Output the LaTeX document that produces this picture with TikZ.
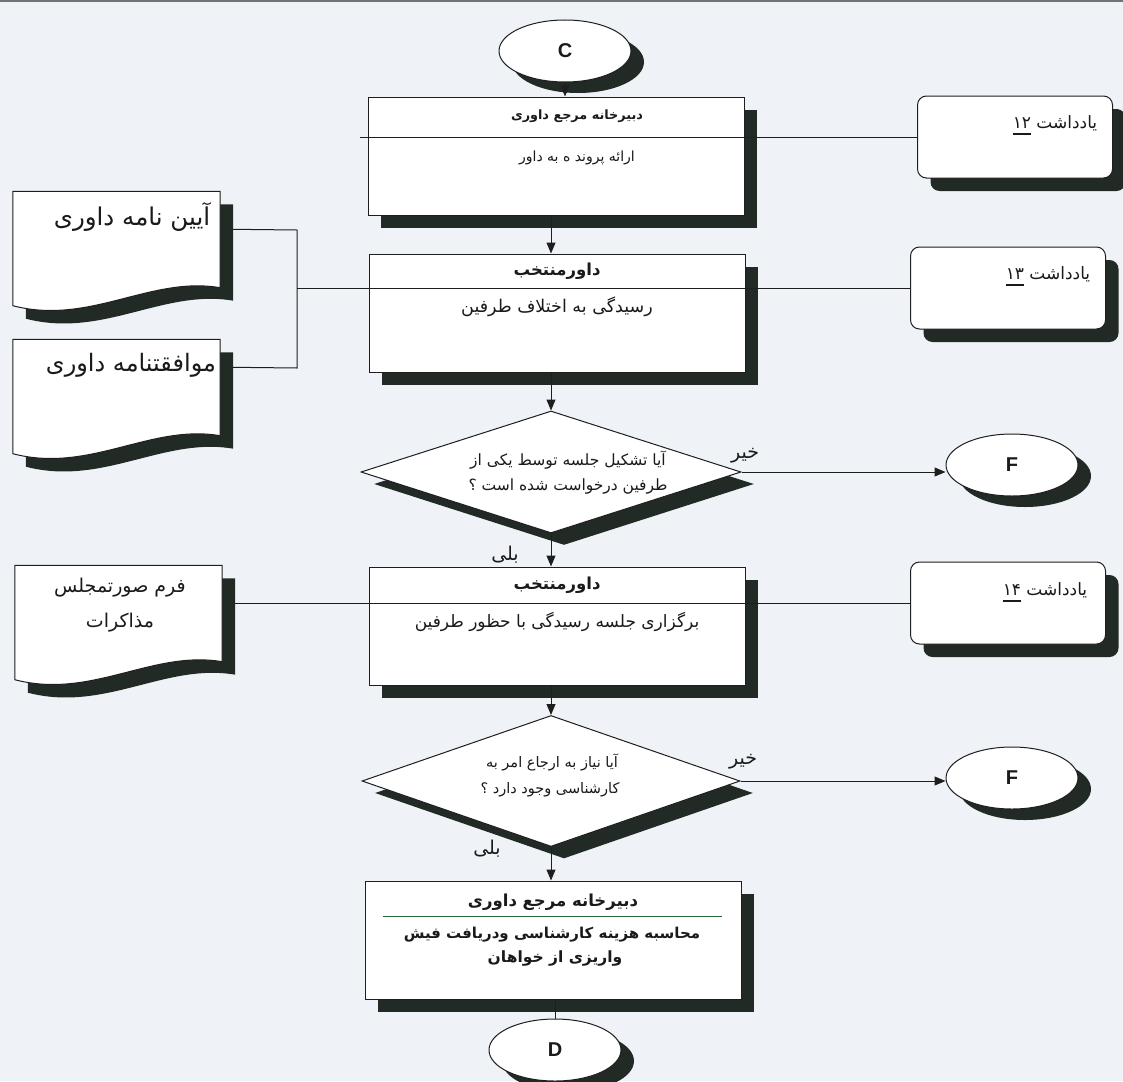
\documentclass[tikz,border=0pt]{standalone}
\usepackage{fontspec}
\setmainfont{DejaVu Sans}
\newfontfamily\fa[Script=Arabic]{DejaVu Sans}
\newfontfamily\lat{Liberation Sans}
\TeXXeTstate=1
\usetikzlibrary{shapes.geometric,arrows.meta,shadows,calc}
\definecolor{bgc}{HTML}{EFF3F7}
\definecolor{shc}{HTML}{222A25}
\definecolor{lnc}{HTML}{1E1E1E}
\definecolor{txc}{HTML}{1A1A1A}
\definecolor{grn}{HTML}{2E6B3C}
\newcommand\fatext[1]{{\fa\beginR #1\endR}}
\newcommand\ulnum[1]{\vtop{\hbox{#1}\kern5pt\hrule height 1.2pt}}
\newcommand\docshape[1]{%
  \fill[shc] ($(#1.north west)+(13,13)$) -- ($(#1.north east)+(13,13)$) -- ($(#1.south east)+(13,-5)$)
     .. controls ($(#1.south east)+(-57,-17)$) and ($(#1.south west)+(90,33)$) .. ($(#1.south west)+(13,13)$) -- cycle;
  \filldraw[fill=white, draw=lnc, line width=1pt] (#1.north west) -- (#1.north east) -- ($(#1.south east)+(0,-18)$)
     .. controls ($(#1.south east)+(-70,-30)$) and ($(#1.south west)+(77,20)$) .. (#1.south west) -- cycle;
}
\begin{document}
\begin{tikzpicture}[x=1pt,y=-1pt,
  ln/.style={draw=lnc, line width=1pt},
  arr/.style={draw=lnc, line width=1pt, -{Triangle[length=11pt,width=9pt]}},
  shad/.style={general shadow={fill=shc, shadow xshift=13pt, shadow yshift=-13pt}},
  box/.style={rectangle, draw=lnc, line width=1pt, fill=white, minimum width=376pt, minimum height=118pt, inner sep=0pt, shad},
  diam/.style={diamond, draw=lnc, line width=1pt, fill=white, aspect=3.1, inner sep=0pt, general shadow={fill=shc, shadow xshift=13pt, shadow yshift=-12pt}},
  conn/.style={ellipse, draw=lnc, line width=1pt, fill=white, minimum width=132pt, minimum height=62pt, inner sep=0pt, text=txc,
     font=\lat\bfseries\fontsize{20}{20}\selectfont, general shadow={fill=shc, shadow xshift=13pt, shadow yshift=-11pt}},
  note/.style={rectangle, rounded corners=9pt, draw=lnc, line width=1pt, fill=white, minimum width=195pt, minimum height=82pt, inner sep=0pt, shad},
  docn/.style={rectangle, minimum width=207pt, minimum height=114pt, inner sep=0pt},
  fs/.style={font=\fontsize{#1}{#1}\selectfont},
  fsb/.style={font=\bfseries\fontsize{#1}{#1}\selectfont},
  tx/.style={inner sep=0pt, text=txc}
]
\useasboundingbox[fill=bgc] (0,0) rectangle (1123,1081);
\fill[black!55] (0,0) rectangle (1123,2.5);

% documents
\node[docn] (doc1) at (116.5,248.5) {};
\docshape{doc1}
\node[docn] (doc2) at (116.5,396.5) {};
\docshape{doc2}
\node[docn] (doc3) at (118.5,622.5) {};
\docshape{doc3}

% main flow nodes
\node[conn] (C) at (565,51) {C};
\node[box] (b1) at (556,156) {};
\node[box] (b2) at (557,313) {};
\node[diam, minimum width=380pt, minimum height=122pt] (d1) at (551,472) {};
\node[box] (b3) at (557,626) {};
\node[diam, minimum width=378pt, minimum height=131pt] (d2) at (551,781) {};
\node[box] (b4) at (553,940) {};
\node[conn] (D) at (555,1050) {D};
\node[conn] (F1) at (1012,465) {F};
\node[conn] (F2) at (1012,778) {F};

% notes
\node[note] (n12) at (1015,137) {};
\node[note] (n13) at (1008,288) {};
\node[note] (n14) at (1008,603) {};

% coordinates for free ends
\coordinate (j1) at (297,230);
\coordinate (j2) at (297,368);
\coordinate (jm) at (297,288);
\coordinate (d3r) at ($(doc3.east)+(13,0)$);
\coordinate (b1l) at ($(b1.north west)+(-8,0)$);

% connectors
\draw[arr] (C.south) -- (C.south |- b1.north);
\draw[arr] (b1.south -| d1.north) -- (b2.north -| d1.north);
\draw[arr] (b2.south -| d1.north) -- (d1.north);
\draw[arr] (d1.south) -- (b3.north -| d1.south);
\draw[arr] (b3.south -| d2.north) -- (d2.north);
\draw[arr] (d2.south) -- (b4.north -| d2.south);
\draw[ln] (b4.south -| D.north) -- (D.north);
\draw[arr] (d1.east) -- (d1.east -| F1.west);
\draw[arr] (d2.east) -- (d2.east -| F2.west);

\draw[ln] (b1l |- n12.west) -- (n12.west);
\draw[ln] ($(doc1.north east)+(13,38)$) -- (j1) -- (j2) -- ($(doc2.north east)+(13,28)$);
\draw[ln] (jm) -- (n13.west);
\draw[draw=lnc, line width=1.8pt] ($(b2.north west)+(16,35)$) -- ($(b2.north east)+(-18,35)$);
\draw[ln] (d3r |- n14.west) -- (n14.west);
\draw[draw=grn, line width=1.6pt] ($(b4.north west)+(18,36)$) -- ($(b4.north east)+(-20,36)$);

% box texts
\node[tx, fsb=12.8] (b1h) at (577,116) {\fatext{دبیرخانه مرجع داوری}};
\node[tx, fs=14] (b1t) at (577,158) {\fatext{ارائه پروند ه به داور}};
\node[tx, fsb=16.5] (b2h) at (557,271) {\fatext{داورمنتخب}};
\node[tx, fs=17.5] (b2t) at (557,307) {\fatext{رسیدگی به اختلاف طرفین}};
\node[tx, fsb=16.5] (b3h) at (557,585) {\fatext{داورمنتخب}};
\node[tx, fs=17] (b3t) at (557,622) {\fatext{برگزاری جلسه رسیدگی با حظور  طرفین}};
\node[tx, fsb=16.5] (b4h) at (553,902) {\fatext{دبیرخانه مرجع داوری}};
\node[tx, fsb=15] (b4t1) at (552,935) {\fatext{محاسبه هزینه کارشناسی ودریافت فیش}};
\node[tx, fsb=15.5] (b4t2) at (555,958) {\fatext{واریزی از خواهان}};

% diamond texts
\node[tx, fs=15.5] (d1t1) at (568,460) {\fatext{آیا تشکیل جلسه  توسط یکی از}};
\node[tx, fs=15.5] (d1t2) at (568,486) {\fatext{طرفین درخواست شده است ؟}};
\node[tx, fs=14.5] (d2t1) at (552,762) {\fatext{آیا نیاز به ارجاع امر به}};
\node[tx, fs=14.5] (d2t2) at (550,790) {\fatext{کارشناسی وجود دارد ؟}};

% branch labels
\node[tx, fs=19] (no1) at (745,456) {\fatext{خیر}};
\node[tx, fs=19] (yes1) at (505,555) {\fatext{بلی}};
\node[tx, fs=19] (no2) at (743,762) {\fatext{خیر}};
\node[tx, fs=19] (yes2) at (487,849) {\fatext{بلی}};

% note texts
\node[tx, fs=17] (n12t) at (1055,125) {\fatext{یادداشت \ulnum{۱۲}}};
\node[tx, fs=17] (n13t) at (1048,276) {\fatext{یادداشت \ulnum{۱۳}}};
\node[tx, fs=17] (n14t) at (1045,592) {\fatext{یادداشت \ulnum{۱۴}}};

% document texts
\node[tx, fs=24.5] (doc1t) at (132,217) {\fatext{آیین نامه داوری}};
\node[tx, fs=24] (doc2t) at (131,365) {\fatext{موافقتنامه داوری}};
\node[tx, fs=19] (doc3t1) at (120,588) {\fatext{فرم صورتمجلس}};
\node[tx, fs=19] (doc3t2) at (120,623) {\fatext{مذاکرات}};
\end{tikzpicture}
\end{document}
